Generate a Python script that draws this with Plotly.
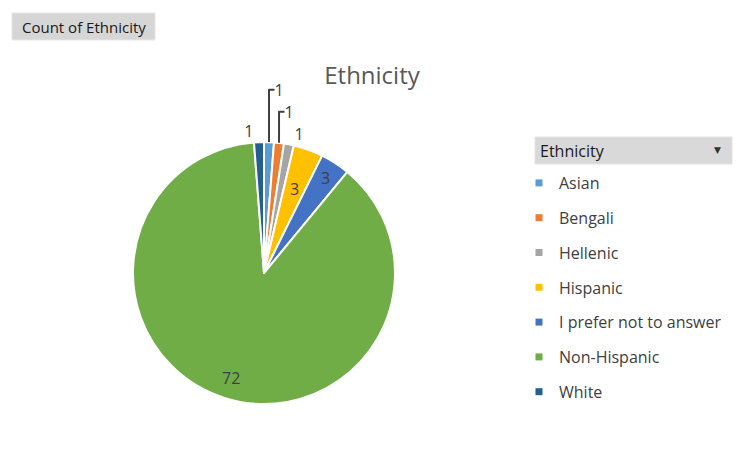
import math
import plotly.graph_objects as go

categories = ["Asian", "Bengali", "Hellenic", "Hispanic", "I prefer not to answer", "Non-Hispanic", "White"]
counts = [1, 1, 1, 3, 3, 72, 1]
colors = ["#5B9BD5", "#ED7D31", "#A5A5A5", "#FFC000", "#4472C4", "#70AD47", "#255E91"]
label_inside = [False, False, False, True, True, True, False]
inside_radial_frac = [0, 0, 0, 0.68, 0.86, 0.84, 0]  # style: where inside labels sit along the radius

# page body has an 8px margin, so the figure is drawn at (8, 8)
OFF = 8
W, H = 751 - OFF, 450 - OFF
def px(x):
    return (x - OFF) / W
def py(y):
    return 1 - (y - OFF) / H

FONT = "Open Sans"
LABEL_FONT = dict(family=FONT, size=16, color="#404040")

# pie box (pixels)
PX0, PX1, PY0, PY1 = 133, 395, 142, 404
CX, CY, R = (PX0 + PX1) / 2, (PY0 + PY1) / 2, (PX1 - PX0) / 2

fig = go.Figure()
fig.add_trace(go.Pie(
    labels=categories, values=counts, sort=False, direction="clockwise", rotation=0,
    marker=dict(colors=colors, line=dict(color="white", width=2)),
    texttemplate=["" if ins else "%{value}" for ins in label_inside],
    textposition=["none" if ins else "outside" for ins in label_inside],
    textfont=LABEL_FONT, outsidetextfont=LABEL_FONT,
    domain=dict(x=[px(PX0), px(PX1)], y=[py(PY1), py(PY0)]),
    showlegend=False, hoverinfo="label+value",
))

# inside data labels, placed at each slice's mid-angle (derived from the values)
total = sum(counts)
cum = 0
for v, ins, f in zip(counts, label_inside, inside_radial_frac):
    mid = (cum + v / 2) / total * 2 * math.pi
    cum += v
    if not ins:
        continue
    xs = CX + f * R * math.sin(mid)
    ys = CY - f * R * math.cos(mid)
    fig.add_annotation(x=px(xs), y=py(ys), xref="paper", yref="paper", text=str(v),
                       showarrow=False, xanchor="center", yanchor="middle", font=LABEL_FONT)

# legend entries (one group each so the spacing matches)
for i, (c, col) in enumerate(zip(categories, colors)):
    fig.add_trace(go.Scatter(
        x=[None], y=[None], mode="markers", name=c, legendgroup=f"g{i}",
        marker=dict(symbol="square", size=7, color=col),
    ))

fig.update_layout(
    width=W, height=H, margin=dict(l=0, r=0, t=0, b=0),
    paper_bgcolor="white", plot_bgcolor="white",
    xaxis=dict(visible=False), yaxis=dict(visible=False),
    title=dict(text="Ethnicity", x=px(372), y=py(76), xanchor="center", yanchor="middle",
               font=dict(family=FONT, size=24, color="#595959")),
    legend=dict(x=px(519), y=py(166), xanchor="left", yanchor="top",
                font=dict(family=FONT, size=16, color="#404040"),
                tracegroupgap=11, bgcolor="rgba(0,0,0,0)", itemclick=False),
    showlegend=True,
)

shapes = [
    # "Count of Ethnicity" field button
    dict(type="rect", xref="paper", yref="paper", x0=px(12), x1=px(155), y0=py(40), y1=py(13),
         fillcolor="#d6d6d6", line=dict(color="#e6e6e6", width=1)),
    # legend header
    dict(type="rect", xref="paper", yref="paper", x0=px(535), x1=px(732), y0=py(164), y1=py(137),
         fillcolor="#d9d9d9", line=dict(color="#e3e3e3", width=1)),
    # spreadsheet gridline on right
    dict(type="line", xref="paper", yref="paper", x0=px(748), x1=px(748), y0=0, y1=py(5),
         line=dict(color="#d0d0d0", width=1.5)),
]
fig.update_layout(shapes=shapes)

fig.add_annotation(x=px(84), y=py(27), xref="paper", yref="paper", text="Count of Ethnicity",
                   showarrow=False, xanchor="center", yanchor="middle",
                   font=dict(family=FONT, size=15, color="#1a1a1a"))
fig.add_annotation(x=px(538), y=py(151), xref="paper", yref="paper", text="Ethnicity",
                   showarrow=False, xanchor="left", yanchor="middle",
                   font=dict(family=FONT, size=16, color="#1a1a1a"))
fig.add_annotation(x=px(717), y=py(150), xref="paper", yref="paper", text="▼",
                   showarrow=False, xanchor="center", yanchor="middle",
                   font=dict(family="DejaVu Sans", size=9, color="#333333"))

fig.write_html("out.html")
